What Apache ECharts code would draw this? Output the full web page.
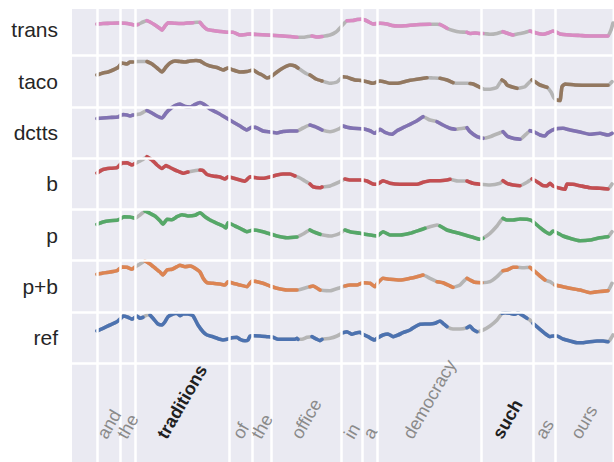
<!DOCTYPE html>
<html>
<head>
<meta charset="utf-8">
<script src="https://cdn.jsdelivr.net/npm/echarts@6/dist/echarts.min.js"></script>
<style>
  html, body { margin: 0; padding: 0; background: #ffffff; }
  #chart { width: 614px; height: 462px; }
</style>
</head>
<body>
<div id="chart"></div>
<script>
// Rows from bottom to top; each contour is a list of [frame, level above the row's floor line].
const ROW_NAMES = ['ref', 'p+b', 'p', 'b', 'dctts', 'taco', 'trans'];
const ROW_COLORS = ['#4C72B0', '#DD8452', '#55A868', '#C44E52', '#8172B3', '#937860', '#DA8BC3'];
const GAP_COLOR = '#b5b5b5';

// Word segmentation (frame boundaries) and the words spoken in each span.
const WORD_EDGES = [25.5, 48.5, 63, 157, 180.5, 199.5, 269.5, 290.5, 305.5, 409.5, 461.5, 483.5, 540.5];
const WORDS = ['and', 'the', 'traditions', 'of', 'the', 'office', 'in', 'a', 'democracy', 'such', 'as', 'ours'];
const EMPHASIS = [false, false, true, false, false, false, false, false, false, true, false, false];

const trans = [[25,31.5],[31,32],[38,32.2],[46,32.5],[53,32.2],[58,31.5],[62,30.5],[66,31],[71,33.5],[75,34.8],[78,33.5],[83,30.5],[88,27],[90,25.5],[93,29.5],[96,32.8],[103,32.2],[111,32],[115,32.5],[121,32.8],[125,33.2],[128,33.2],[131,29.5],[135,26.2],[141,25],[148,24],[155,23.2],[161,23.2],[168,20.5],[174,21],[178,21.5],[185,21],[195,20.5],[203,20],[211,19.5],[218,19],[225,18.2],[231,18.2],[236,19],[240,19.5],[245,18.5],[250,19],[258,20.5],[264,23.5],[268,27.5],[272,32],[275,34.8],[281,35],[285,36],[289,36.2],[293,35.5],[297,33.5],[301,31.5],[308,32.2],[315,31.5],[320,30],[326,29.5],[333,29.7],[338,30.2],[348,31],[358,31.2],[365,31.2],[368,31],[372,29],[375,27.2],[381,25],[388,23.5],[395,23.2],[398,22],[403,22.5],[408,22],[411,22],[418,21.2],[425,22],[431,23.8],[436,22],[441,20.5],[448,22],[453,23],[458,24.5],[465,22.2],[471,21.2],[476,22.5],[481,24.5],[485,23],[488,21.5],[498,20.5],[508,20],[518,19.5],[528,19.5],[536,19.5],[539,25.5],[541,32.5]];
const taco = [[25,31.8],[31,33.8],[36,34.8],[41,36.8],[46,39.3],[50,43.8],[55,42.8],[58,44.8],[61,44.8],[66,45.3],[71,45.3],[75,45.3],[80,42.8],[85,38.8],[90,34.8],[94,39.8],[98,43.8],[103,45.8],[108,45.3],[113,44.8],[118,45.8],[124,46.3],[128,45.8],[133,42.8],[138,40.8],[145,39.3],[151,36.8],[156,38.8],[161,36.8],[168,34.8],[175,35.3],[181,36.8],[186,33.8],[191,31.3],[195,28.8],[200,30.8],[205,34.8],[211,38.8],[218,41.8],[223,40.8],[226,38.8],[231,35.3],[235,32.8],[238,31.8],[244,27.8],[250,25.8],[258,23.5],[265,24.8],[271,30.1],[275,29.5],[283,26.8],[289,26.3],[295,25.1],[301,23.5],[308,25.8],[313,24.8],[318,23.5],[325,23.5],[335,25.8],[345,27.5],[355,29.1],[361,28.8],[368,28.5],[375,26.8],[381,24.1],[388,23.5],[395,23.5],[398,23.3],[401,22.8],[408,19.5],[413,17.5],[418,17.5],[425,19.5],[430,26.8],[433,24.8],[435,21.8],[441,19.5],[445,18.5],[453,20.1],[460,26.8],[463,25.1],[468,21.8],[475,19.5],[479,14.8],[482,8.8],[485,6.8],[488,6.3],[490,20.1],[493,22.8],[503,21.8],[518,21.5],[536,21.5],[540,25.1]];
const dctts = [[25,39.6],[31,40.1],[38,40.6],[46,41.1],[51,43.6],[55,43.1],[58,42.1],[61,43.1],[68,44.1],[75,47.6],[80,45.1],[85,42.1],[90,40.1],[94,45.1],[98,49.1],[103,52.6],[108,54.1],[113,51.6],[118,51.1],[123,53.6],[128,55.6],[133,53.1],[138,49.1],[145,45.6],[151,42.1],[156,39.1],[161,36.1],[168,32.1],[175,28.1],[180,31.1],[185,30.1],[191,27.1],[198,26.1],[205,25.1],[211,26.6],[218,27.1],[225,27.1],[231,30.1],[238,33.1],[243,31.4],[250,28.1],[258,26.4],[268,29.8],[271,32.1],[275,30.8],[281,29.8],[291,29.4],[298,27.4],[303,24.8],[308,28.8],[313,25.8],[320,23.8],[325,27.4],[331,30.4],[338,33.8],[345,37.4],[351,41.4],[358,38.1],[365,36.4],[371,33.1],[378,29.8],[383,28.8],[391,29.8],[395,30.4],[398,26.4],[405,21.4],[411,19.8],[418,21.4],[428,25.4],[431,26.4],[435,22.1],[441,19.8],[448,18.8],[455,24.8],[458,27.4],[463,25.8],[468,23.1],[473,22.1],[476,25.4],[483,29.1],[491,29.8],[498,28.1],[508,26.1],[518,23.8],[528,24.8],[536,23.1],[540,24.8]];
const b = [[25,36.4],[31,39.9],[38,41.1],[45,41.7],[50,46.4],[55,46.7],[60,44.4],[63,45.9],[70,49.4],[75,52.7],[80,49.4],[85,44.4],[90,40.9],[94,43.9],[98,41.9],[103,39.4],[108,37.4],[111,36.1],[116,37.4],[121,38.4],[128,39.4],[131,38.9],[135,34.9],[141,33.4],[148,32.4],[153,30.4],[156,32.7],[161,31.4],[168,29.4],[173,28.1],[178,32.7],[185,31.4],[191,31.1],[198,32.4],[205,34.4],[211,35.4],[218,35.4],[223,33.4],[228,31.4],[233,28.4],[238,25.4],[241,22.7],[248,21.7],[250,22.4],[258,23.4],[268,27.7],[273,30.4],[278,29.4],[288,29.4],[295,28.4],[301,25.4],[305,25.1],[311,28.7],[318,26.1],[328,25.1],[338,25.1],[345,25.1],[351,27.1],[358,28.7],[368,28.7],[375,29.4],[378,30.1],[386,28.4],[395,28.4],[401,26.1],[408,25.1],[418,24.4],[428,26.1],[431,28.7],[435,26.1],[441,24.4],[448,23.7],[455,27.1],[460,30.4],[465,27.7],[471,23.7],[475,23.4],[478,26.1],[481,23.4],[488,21.1],[493,20.1],[495,25.4],[501,25.1],[508,23.7],[518,21.7],[528,21.1],[536,20.4],[540,25.4]];
const p = [[25,36.4],[31,38.7],[38,40],[45,40.4],[48,41.7],[52,44],[58,43.7],[63,42.4],[68,45.7],[73,49.7],[78,47.4],[83,44.7],[88,40],[91,36.4],[95,41.4],[100,41],[105,44],[110,46],[116,44.7],[123,45.4],[128,48],[133,44],[138,40.7],[145,37.4],[151,34.7],[154,32.7],[156,38],[163,34.7],[170,31.4],[175,29],[181,30.7],[188,29.7],[195,27.7],[205,24.7],[215,23],[225,23.7],[231,26.7],[238,30.7],[241,29],[248,26.4],[258,24.7],[268,27.4],[273,30.7],[278,29],[288,27.4],[298,25.7],[305,24.7],[311,29],[318,25.7],[328,25.7],[338,27.4],[348,30.7],[353,32.4],[365,35.7],[368,34.7],[375,30.7],[381,29],[393,25.7],[401,23.4],[408,21.4],[411,22.4],[418,27.4],[425,34.7],[431,42.4],[435,40.7],[441,40.7],[448,41.7],[455,41.4],[460,40],[465,35.7],[471,30.7],[475,28],[478,26.7],[481,29.7],[486,27.4],[491,24.7],[498,22.4],[508,20],[518,20.7],[528,23],[536,24],[540,29]];
const pb = [[25,37.7],[31,39],[38,40],[45,41.3],[50,45],[55,44.7],[60,42.7],[63,45],[68,48],[73,51],[78,48],[83,44],[88,40],[91,37],[95,42],[100,42.7],[105,45.3],[108,46.7],[113,45.3],[118,46],[121,45],[128,40],[131,34],[135,29.3],[141,28.7],[148,28],[153,27],[156,30.3],[161,28.7],[168,27],[175,25.3],[180,31],[185,30.3],[191,28.7],[198,26],[205,23.7],[215,22],[225,22],[233,24],[238,25.3],[241,26],[248,22],[258,21.3],[268,24.3],[273,26],[278,27],[285,27],[291,29.3],[298,28.7],[303,25.3],[306,29.3],[311,33.7],[318,32.7],[328,32],[338,33.7],[345,35.3],[351,37],[358,33.7],[365,30.3],[371,29.3],[378,26],[381,24.7],[388,27],[395,33.7],[398,32],[403,29.7],[410,29.3],[418,30.3],[425,35.3],[431,41.3],[435,42],[441,44.7],[445,44.7],[451,44.3],[458,44.7],[463,40.3],[468,36],[473,32],[478,30.3],[483,27],[491,25.3],[498,23.7],[508,22],[518,19.3],[528,20.5],[536,21.3],[540,28.7]];
const ref = [[25,32.3],[31,35],[38,38.3],[45,41.6],[50,46],[51,47.3],[56,46],[60,44],[65,47.3],[68,45],[71,46],[75,48.3],[78,48.3],[81,45],[86,39.3],[90,38.3],[93,41.6],[96,46.6],[101,49.3],[105,50],[108,47.6],[111,49.3],[116,49.3],[121,47.6],[126,38.3],[131,31.6],[135,28.3],[141,26.6],[148,24],[151,23.3],[155,24],[160,25.6],[165,26],[168,24],[173,22.6],[176,23.3],[178,27.3],[181,27.6],[188,27.3],[195,26.6],[201,26],[206,24],[215,24],[223,24],[225,25],[226,24],[230,24],[235,26],[240,26.6],[245,24],[248,22.6],[250,24],[258,25],[265,27.3],[271,30.6],[275,31.6],[280,29],[283,30],[288,31],[291,29],[296,26.6],[300,24.3],[303,23.3],[306,25.6],[311,28.3],[316,29.3],[321,26.6],[326,28.3],[331,30.6],[338,33.3],[343,36.6],[348,39],[353,39.3],[358,39.3],[363,40],[368,42.3],[371,40],[375,36.6],[381,34.3],[388,34.3],[395,35.6],[398,37.3],[401,34],[405,31.6],[411,33.3],[418,37.3],[425,43.3],[430,50],[433,50.6],[438,50],[443,49],[446,50.6],[450,48.3],[455,45],[458,43.3],[461,40],[468,34],[475,28.3],[478,26.6],[481,27.3],[485,27.3],[491,24.3],[498,22.3],[505,20.6],[511,20.6],[518,21.6],[525,22.3],[531,22.3],[536,21.6],[538,23.3],[541,28.3]];

// Frame spans drawn in grey for each row.
const transGaps = [[66,75],[121,128],[225,238],[250,275],[358,368],[375,395],[411,431],[441,458],[536,541]];
const tacoGaps = [[61,75],[226,238],[250,271],[355,368],[381,398],[411,430],[445,460],[475,485],[536,541]];
const dcttsGaps = [[25,31],[61,75],[225,238],[250,271],[351,365],[383,395],[411,431],[448,458]];
const bGaps = [[25,31],[63,75],[116,128],[223,238],[250,273],[378,395],[408,431],[448,460],[536,541]];
const pGaps = [[25,31],[63,73],[225,238],[250,273],[353,368],[381,393],[411,431],[455,460],[536,541]];
const pbGaps = [[25,31],[63,73],[121,128],[225,238],[250,273],[351,365],[381,395],[410,431],[445,458],[473,483],[536,541]];
const refGaps = [[25,31],[71,78],[121,126],[226,238],[250,271],[375,395],[405,430],[455,461],[536,541]];

const CONTOURS = [ref, pb, p, b, dctts, taco, trans];
const GAPS = [refGaps, pbGaps, pGaps, bGaps, dcttsGaps, tacoGaps, transGaps];

// Vertical layout: each row takes ROW_GAP units; the word strip sits below row 0.
const ROW_GAP = 51.3;
const Y_MIN = -98.7;
const Y_MAX = 354.3;
const X_MAX = 540.5;
const LABEL_FLOOR = -78.5;

const FONT = '"Liberation Sans", Arial, Helvetica, sans-serif';
const WORD_SIZE = 18;
const measureCtx = document.createElement('canvas').getContext('2d');
function textWidth(text, weight) {
  measureCtx.font = weight + ' ' + WORD_SIZE + 'px ' + FONT;
  return measureCtx.measureText(text).width;
}

function inGap(t, gaps) {
  return gaps.some(([a, c]) => t > a && t < c);
}

const lineBase = {
  type: 'line',
  showSymbol: false,
  symbol: 'none',
  smooth: 0.15,
  animation: false,
  silent: true
};

// Full contour in grey underneath, voiced stretches in the row colour on top.
const greySeries = CONTOURS.map((rows, i) => Object.assign({}, lineBase, {
  name: ROW_NAMES[i] + ' (unvoiced)',
  data: rows.map(([t, v]) => [t, i * ROW_GAP + v]),
  z: 3,
  lineStyle: { width: 3.6, color: GAP_COLOR, cap: 'round', join: 'round' }
}));

const voicedSeries = CONTOURS.map((rows, i) => Object.assign({}, lineBase, {
  name: ROW_NAMES[i],
  data: rows.map(([t, v]) => inGap(t, GAPS[i]) ? [t, null] : [t, i * ROW_GAP + v]),
  connectNulls: false,
  z: 4,
  lineStyle: { width: 3.6, color: ROW_COLORS[i], cap: 'round', join: 'round' }
}));

const gridLines = {
  type: 'line',
  data: [],
  z: 1,
  silent: true,
  animation: false,
  markLine: {
    silent: true,
    symbol: ['none', 'none'],
    label: { show: false },
    animation: false,
    lineStyle: { color: '#ffffff', width: 2.5, type: 'solid' },
    data: WORD_EDGES.slice(0, -1).map(x => ({ xAxis: x }))
      .concat(ROW_NAMES.map((_, i) => ({ yAxis: i * ROW_GAP })))
  }
};

const wordLabels = {
  type: 'custom',
  silent: true,
  z: 6,
  clip: false,
  animation: false,
  data: WORDS.map((w, k) => [(WORD_EDGES[k] + WORD_EDGES[k + 1]) / 2, LABEL_FLOOR, k]),
  renderItem: function (params, api) {
    const k = api.value(2);
    const pt = api.coord([api.value(0), api.value(1)]);
    const weight = EMPHASIS[k] ? 'bold' : 'normal';
    const w = textWidth(WORDS[k], weight);
    const ang = Math.PI / 3;
    const boxH = w * Math.sin(ang) + WORD_SIZE * Math.cos(ang);
    return {
      type: 'text',
      x: pt[0],
      y: pt[1] - boxH / 2,
      rotation: ang,
      style: {
        text: WORDS[k],
        fontSize: WORD_SIZE,
        fontFamily: FONT,
        fontWeight: weight,
        fill: EMPHASIS[k] ? '#1f1f1f' : '#8a8a8a',
        align: 'center',
        verticalAlign: 'middle'
      }
    };
  }
};

const chart = echarts.init(document.getElementById('chart'), null, { renderer: 'svg' });
chart.setOption({
  animation: false,
  backgroundColor: '#ffffff',
  grid: {
    show: true,
    left: 72, right: 1.5, top: 9, bottom: 0,
    backgroundColor: '#EAEAF2',
    borderWidth: 0
  },
  xAxis: {
    type: 'value', min: 0, max: X_MAX,
    axisLine: { show: false }, axisTick: { show: false },
    axisLabel: { show: false }, splitLine: { show: false }
  },
  yAxis: {
    type: 'value', min: Y_MIN, max: Y_MAX,
    axisLine: { show: false }, axisTick: { show: false },
    splitLine: { show: false },
    axisLabel: {
      customValues: ROW_NAMES.map((_, i) => i * ROW_GAP + ROW_GAP / 2),
      formatter: v => ROW_NAMES[Math.round((v - ROW_GAP / 2) / ROW_GAP)] || '',
      fontSize: 21,
      fontFamily: FONT,
      color: '#262626',
      margin: 14
    }
  },
  series: greySeries.concat(voicedSeries, [gridLines, wordLabels])
});
</script>
</body>
</html>
